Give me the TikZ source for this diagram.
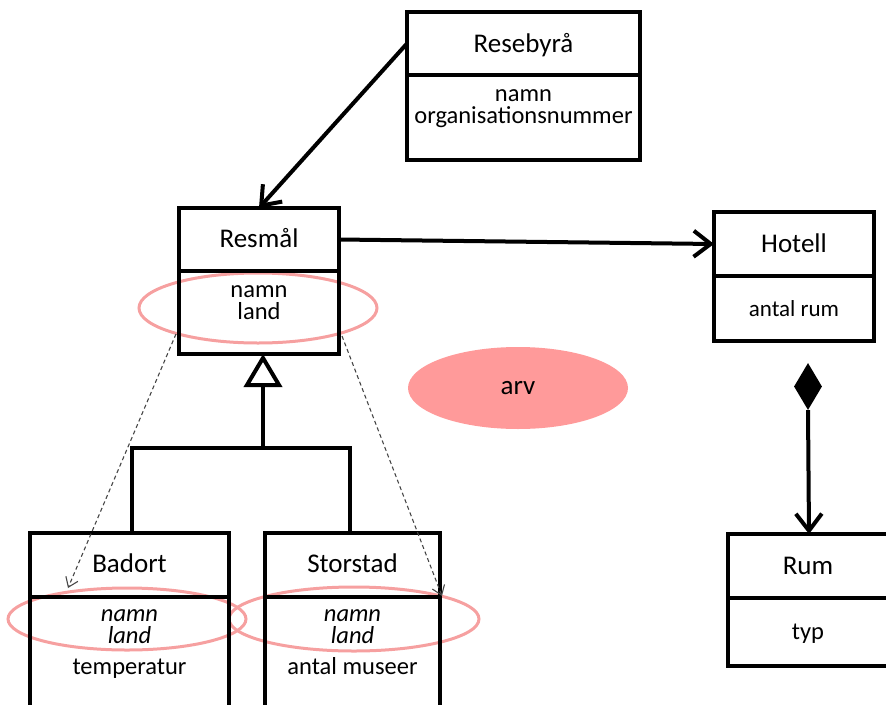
\documentclass[tikz,border=0pt]{standalone}
\usepackage{fontspec}
\setmainfont{Carlito}
\usetikzlibrary{arrows.meta,shapes.geometric}
\definecolor{ringpink}{RGB}{246,160,160}
\definecolor{arvpink}{RGB}{255,154,154}
\definecolor{dashgray}{RGB}{70,70,70}
\tikzset{
  comp/.style={draw=black, line width=4pt, rectangle, inner sep=0pt, outer sep=0pt, anchor=north west},
  ttl/.style={anchor=base, inner sep=0pt, font=\fontsize{27}{27}\selectfont},
  attr/.style={anchor=base, inner sep=0pt, font=\fontsize{24.5}{24.5}\selectfont},
  ring/.style={draw=ringpink, line width=3pt, ellipse, inner sep=0pt},
  assoc/.style={line width=4pt, -{Straight Barb[length=17pt,width=26pt,line width=4pt]}},
  dep/.style={draw=dashgray, line width=1.1pt, dash pattern=on 4pt off 3pt, -{Straight Barb[length=9pt,width=13pt,line width=1.1pt]}},
}
\begin{document}
\begin{tikzpicture}[x=1pt,y=-1pt]
\useasboundingbox (0,0) rectangle (886,704);
\clip (0,0) rectangle (886,704);

% pink rings
\node[ring, minimum width=238, minimum height=70] (ringR) at (258,308) {};
\node[ring, minimum width=238, minimum height=62] (ringB) at (127,619) {};
\node[ring, minimum width=250, minimum height=64] (ringS) at (354,619) {};

% arv
\node[ellipse, fill=arvpink, minimum width=220, minimum height=82, inner sep=0pt,
      font=\fontsize{27}{27}\selectfont] (arv) at (518,388) {arv};

% Resebyrå
\node[comp, minimum width=233, minimum height=63] (rbT) at (407,12) {};
\node[comp, minimum width=233, minimum height=85] (rbA) at (407,75) {};
\node[ttl] (rbTt) at (523.5,52) {Resebyrå};
\node[attr] (rbA1) at (523.5,101) {namn};
\node[attr] (rbA2) at (523.5,123) {organisationsnummer};

% Resmål
\node[comp, minimum width=160, minimum height=63] (rmT) at (179,208) {};
\node[comp, minimum width=160, minimum height=83] (rmA) at (179,271) {};
\node[ttl] (rmTt) at (259,247) {Resmål};
\node[attr] (rmA1) at (259,297) {namn};
\node[attr] (rmA2) at (259,319) {land};

% Hotell
\node[comp, minimum width=160, minimum height=64] (hoT) at (714,212) {};
\node[comp, minimum width=160, minimum height=65] (hoA) at (714,276) {};
\node[ttl] (hoTt) at (794,252) {Hotell};
\node[attr, font=\fontsize{23}{23}\selectfont] (hoA1) at (794,316) {antal rum};

% Rum
\node[comp, minimum width=162, minimum height=64] (ruT) at (728,534) {};
\node[comp, minimum width=162, minimum height=68] (ruA) at (728,598) {};
\node[ttl] (ruTt) at (808,574) {Rum};
\node[attr] (ruA1) at (808,639) {typ};

% Badort
\node[comp, minimum width=199, minimum height=64] (baT) at (30,533) {};
\node[comp, minimum width=199, minimum height=115] (baA) at (30,597) {};
\node[ttl] (baTt) at (129.5,572) {Badort};
\node[attr, font=\fontsize{24.5}{24.5}\selectfont\itshape] (baA1) at (129.5,621) {namn};
\node[attr, font=\fontsize{24.5}{24.5}\selectfont\itshape] (baA2) at (129.5,643) {land};
\node[attr] (baA3) at (129.5,674) {temperatur};

% Storstad
\node[comp, minimum width=175, minimum height=64] (stT) at (265,533) {};
\node[comp, minimum width=175, minimum height=115] (stA) at (265,597) {};
\node[ttl] (stTt) at (352.5,572) {Storstad};
\node[attr, font=\fontsize{24.5}{24.5}\selectfont\itshape] (stA1) at (352.5,621) {namn};
\node[attr, font=\fontsize{24.5}{24.5}\selectfont\itshape] (stA2) at (352.5,643) {land};
\node[attr] (stA3) at (352.5,674) {antal museer};

% associations
\draw[assoc] (rbT.west) -- (rmT.north);
\draw[assoc] (rmT.east) -- (hoT.west);

% composition
\node[diamond, fill=black, inner sep=0pt, minimum width=28, minimum height=47] (dia) at (808,386.5) {};
\draw[assoc] (dia.south) -- (ruT.north);

% generalization
\coordinate (gen) at (263,448);
\coordinate (genB) at (132,448);
\coordinate (genS) at (350,448);
\draw[line width=4pt] (132,533) -- (genB) -- (genS) -- (350,533);
\draw[line width=4pt, -{Triangle[open, length=33pt, width=38pt, line width=4pt]}] (gen) -- (rmA.south -| gen);

% dependency arrows
\coordinate (d1s) at (176,334);
\coordinate (d1e) at (68,588);
\coordinate (d2s) at (342,336);
\coordinate (d2e) at (442,596);
\draw[dep] (d1s) -- (d1e);
\draw[dep] (d2s) -- (d2e);
\end{tikzpicture}
\end{document}
